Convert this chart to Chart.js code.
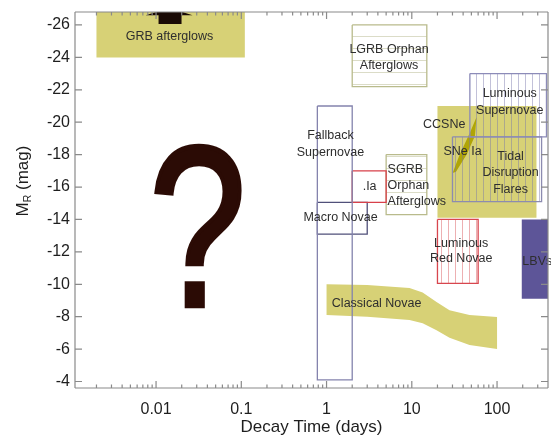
<!DOCTYPE html>
<html><head><meta charset="utf-8">
<script src="https://cdn.jsdelivr.net/npm/chart.js@4"></script>
<style>html,body{margin:0;padding:0;background:#fff}#wrap{width:551px;height:441px;position:relative}</style>
</head><body><div id="wrap"><canvas id="c"></canvas></div>
<script>
// ---------------- data (decay time in days, absolute magnitude M_R) ----------------
const xTickLabels = [0.01, 0.1, 1, 10, 100];
const yTickLabels = [-26, -24, -22, -20, -18, -16, -14, -12, -10, -8, -6, -4];
const xRange = [0.00112, 396];
const yRange = [-26.8, -3.6];

// rectangles: [tMin, tMax, magBright, magFaint]
const grbAfterglows     = [0.002, 0.11, -27.2, -24];
const lgrbOrphan        = [2, 15, -26, -22.2];
const luminousSN        = [48, 380, -23, -19.1];
const ccsne             = [20, 290, -21, -14.1];
const tidalDisruption   = [30, 333, -19.1, -15.1];
const fallbackSN        = [0.78, 2, -21, -4.1];
const dotIa             = [2, 5, -17, -15.05];
const sgrbOrphan        = [5, 15, -18, -14.3];
const macroNovae        = [0.78, 3, -15.05, -13.1];
const luminousRedNovae  = [20, 60, -14, -10.05];
const lbvs              = [195, 1000, -14, -9.1];

// polygons: [t, mag] vertices
const grbArrow = [[0.0107,-26.06],[0.0199,-26.06],[0.0199,-26.6],[0.0268,-26.6],[0.0144,-27.05],[0.00753,-26.6],[0.0107,-26.6]];
const classicalNovaeTop    = [[1,-10.0],[3,-9.95],[9.4,-9.77],[13.4,-9.5],[19.5,-8.9],[27.7,-8.4],[47.5,-8.1],[100,-7.98]];
const classicalNovaeBottom = [[100,-6.0],[47.5,-6.25],[27.7,-6.7],[19.5,-7.17],[13.4,-7.6],[9.4,-7.79],[3,-8.0],[1,-8.1]];
const sneIa = [[30.1,-16.86],[36.5,-18.0],[47.6,-19.3],[57.4,-20.3],[55,-19.15],[44,-18.0],[33,-16.95]];

// text labels: [t, mag, text]
const labelsCenter = [
  [0.0144,-25.26,'GRB afterglows'],
  [5.4,-24.46,'LGRB Orphan'],[5.4,-23.47,'Afterglows'],
  [141,-21.74,'Luminous'],[141,-20.75,'Supernovae'],
  [24,-19.83,'CCSNe'],[39.4,-18.2,'SNe Ia'],
  [144,-17.9,'Tidal'],[144,-16.9,'Disruption'],[144,-15.85,'Flares'],
  [1.11,-19.15,'Fallback'],[1.11,-18.1,'Supernovae'],
  [3.2,-16.0,'.Ia'],
  [1.46,-14.1,'Macro Novae'],
  [38,-12.5,'Luminous'],[38,-11.6,'Red Novae'],
  [3.87,-8.84,'Classical Novae']
];
const labelsLeft = [
  [5.2,-17.05,'SGRB'],[5.2,-16.1,'Orphan'],[5.2,-15.1,'Afterglows'],
  [198,-11.4,'LBVs']
];
const questionMark = [0.031, -13.6, '?'];

// ---------------- helpers ----------------
function rect(r){ return [{x:r[0],y:r[2]},{x:r[1],y:r[2]},{x:r[1],y:r[3]},{x:r[0],y:r[3]},{x:r[0],y:r[2]}]; }
function poly(p){ const a=p.map(v=>({x:v[0],y:v[1]})); a.push({x:p[0][0],y:p[0][1]}); return a; }
function hatch(color, spacing, vertical){
  const c=document.createElement('canvas');
  c.width = vertical ? spacing : 4; c.height = vertical ? 4 : spacing;
  const g=c.getContext('2d'); g.fillStyle=color;
  if(vertical) g.fillRect(0,0,1,4); else g.fillRect(0,0,4,1);
  return g.createPattern(c,'repeat');
}
const YEL='#d7d176';
const vPurple = hatch('rgba(120,118,170,0.45)',7,true);
const vRed = hatch('rgba(215,80,85,0.45)',7,true);
const hOlive = hatch('rgba(175,178,130,0.45)',12,false);

function ds(data, bg, border, order, extra){
  return Object.assign({type:'line', data, fill: bg ? 'shape' : false, backgroundColor: bg || 'transparent',
    borderColor: border || 'transparent', borderWidth: border ? 1.3 : 0, pointRadius:0, tension:0, order}, extra||{});
}

const datasets = [
  ds(rect(grbAfterglows), YEL, null, 20),
  ds(rect(ccsne), YEL, null, 20),
  ds(poly(classicalNovaeTop.concat(classicalNovaeBottom)), YEL, null, 20),
  ds(poly(sneIa), '#b0a506', null, 15),
  ds(rect(lbvs), '#5d5598', null, 15),
  ds(poly(grbArrow), '#1a0a05', null, 15, {clip:false}),
  ds(rect(lgrbOrphan), hOlive, '#b9bb8c', 5),
  ds(rect(sgrbOrphan), hOlive, '#b9bb8c', 5),
  ds(rect(luminousSN), vPurple, '#8c8bb8', 5),
  ds(rect(tidalDisruption), vPurple, '#8c8bb0', 5),
  ds(rect(luminousRedNovae), vRed, '#d8464e', 5),
  ds(rect(fallbackSN), null, '#8483ad', 4),
  ds(rect(dotIa), null, '#d8404a', 4),
  ds(rect(macroNovae), null, '#50507a', 4),
];

const FONT = "'Liberation Sans', Arial, Helvetica, sans-serif";

function near(a,b){ return Math.abs(Math.log10(a)-Math.log10(b))<1e-6; }

const decor = {
  id:'decor',
  afterDatasetsDraw(chart){
    const ctx=chart.ctx, xs=chart.scales.x, ys=chart.scales.y, a=chart.chartArea;
    ctx.save();
    // question mark
    {
      const px=xs.getPixelForValue(questionMark[0]), py=ys.getPixelForValue(questionMark[1]);
      ctx.font = "200px " + FONT;
      const m=ctx.measureText(questionMark[2]);
      const L=m.actualBoundingBoxLeft, R=m.actualBoundingBoxRight, A=m.actualBoundingBoxAscent, D=m.actualBoundingBoxDescent;
      const w=L+R, h=A+D;
      const sx=84/w, sy=160/h;
      ctx.translate(px,py); ctx.scale(sx,sy);
      ctx.fillStyle='#2b0b05'; ctx.textBaseline='alphabetic'; ctx.textAlign='left';
      ctx.lineWidth=4; ctx.strokeStyle='#2b0b05'; ctx.lineJoin='miter';
      ctx.fillText(questionMark[2], -(L+R)/2 + L, (A-D)/2);
      ctx.strokeText(questionMark[2], -(L+R)/2 + L, (A-D)/2);
      ctx.restore(); ctx.save();
    }
    // labels
    ctx.font = "12.5px " + FONT; ctx.fillStyle='#2e2e2e'; ctx.textBaseline='middle';
    ctx.textAlign='center';
    labelsCenter.forEach(l=>ctx.fillText(l[2], xs.getPixelForValue(l[0]), ys.getPixelForValue(l[1])));
    ctx.textAlign='left';
    labelsLeft.forEach(l=>ctx.fillText(l[2], xs.getPixelForValue(l[0]), ys.getPixelForValue(l[1])));
    ctx.restore();

    // frame and inward ticks
    ctx.save();
    ctx.strokeStyle='#8a8a8a'; ctx.lineWidth=1.2;
    ctx.beginPath();
    ctx.moveTo(a.left,a.top); ctx.lineTo(a.right,a.top);
    ctx.moveTo(a.left,a.bottom); ctx.lineTo(a.right,a.bottom);
    ctx.moveTo(a.left,a.top); ctx.lineTo(a.left,a.bottom);
    ctx.moveTo(a.right,a.top); ctx.lineTo(a.right,a.bottom);
    ctx.stroke();
    ctx.beginPath();
    xs.ticks.forEach(t=>{
      const x=xs.getPixelForValue(t.value);
      const major = xTickLabels.some(v=>near(v,t.value));
      const L = major?7:3.5;
      ctx.moveTo(x,a.bottom); ctx.lineTo(x,a.bottom-L);
      ctx.moveTo(x,a.top); ctx.lineTo(x,a.top+L);
    });
    ys.ticks.forEach(t=>{
      const y=ys.getPixelForValue(t.value);
      ctx.moveTo(a.left,y); ctx.lineTo(a.left+7,y);
      ctx.moveTo(a.right,y); ctx.lineTo(a.right-7,y);
    });
    ctx.stroke();
    ctx.restore();

    // y title: M_R (mag)
    ctx.save();
    ctx.translate(22,181); ctx.rotate(-Math.PI/2);
    ctx.fillStyle='#1e1e1e'; ctx.textBaseline='alphabetic'; ctx.textAlign='left';
    const f1="17px "+FONT, f2="10.5px "+FONT;
    ctx.font=f1; const wM=ctx.measureText('M').width, wRest=ctx.measureText(' (mag)').width;
    ctx.font=f2; const wR=ctx.measureText('R').width;
    let x0=-(wM+wR+wRest)/2;
    ctx.font=f1; ctx.fillText('M',x0,6); x0+=wM;
    ctx.font=f2; ctx.fillText('R',x0,9); x0+=wR;
    ctx.font=f1; ctx.fillText(' (mag)',x0,6);
    ctx.restore();
  }
};

function xTicks(){
  const out=[];
  for(let e=-4;e<=3;e++) for(let m=1;m<=9;m++){ const v=m*Math.pow(10,e); if(v>=xRange[0]&&v<=xRange[1]) out.push({value:v}); }
  return out;
}

new Chart(document.getElementById('c'), {
  type:'line',
  data:{datasets},
  plugins:[decor],
  options:{
    responsive:true, maintainAspectRatio:false, animation:false,
    layout:{padding:{top:12,right:3,left:0,bottom:0}},
    plugins:{legend:{display:false}, tooltip:{enabled:false}},
    scales:{
      x:{type:'logarithmic', min:xRange[0], max:xRange[1],
        afterBuildTicks:s=>{ s.ticks=xTicks(); },
        afterFit:s=>{ s.height=53; },
        grid:{display:false}, border:{display:false},
        ticks:{autoSkip:false, maxRotation:0, padding:4, color:'#1e1e1e', font:{size:16, family:FONT},
          callback:(v)=>{ const t=xTickLabels.find(q=>near(q,v)); return t===undefined?'':String(t); }},
        title:{display:true, text:'Decay Time (days)', color:'#1e1e1e', font:{size:17, family:FONT}, padding:{top:0,bottom:3}}
      },
      y:{type:'linear', reverse:true, min:yRange[0], max:yRange[1],
        afterBuildTicks:s=>{ s.ticks=yTickLabels.map(v=>({value:v})); },
        afterFit:s=>{ s.width=75; },
        grid:{display:false}, border:{display:false},
        ticks:{padding:-3, color:'#1e1e1e', font:{size:16, family:FONT}}
      }
    }
  }
});
</script></body></html>
